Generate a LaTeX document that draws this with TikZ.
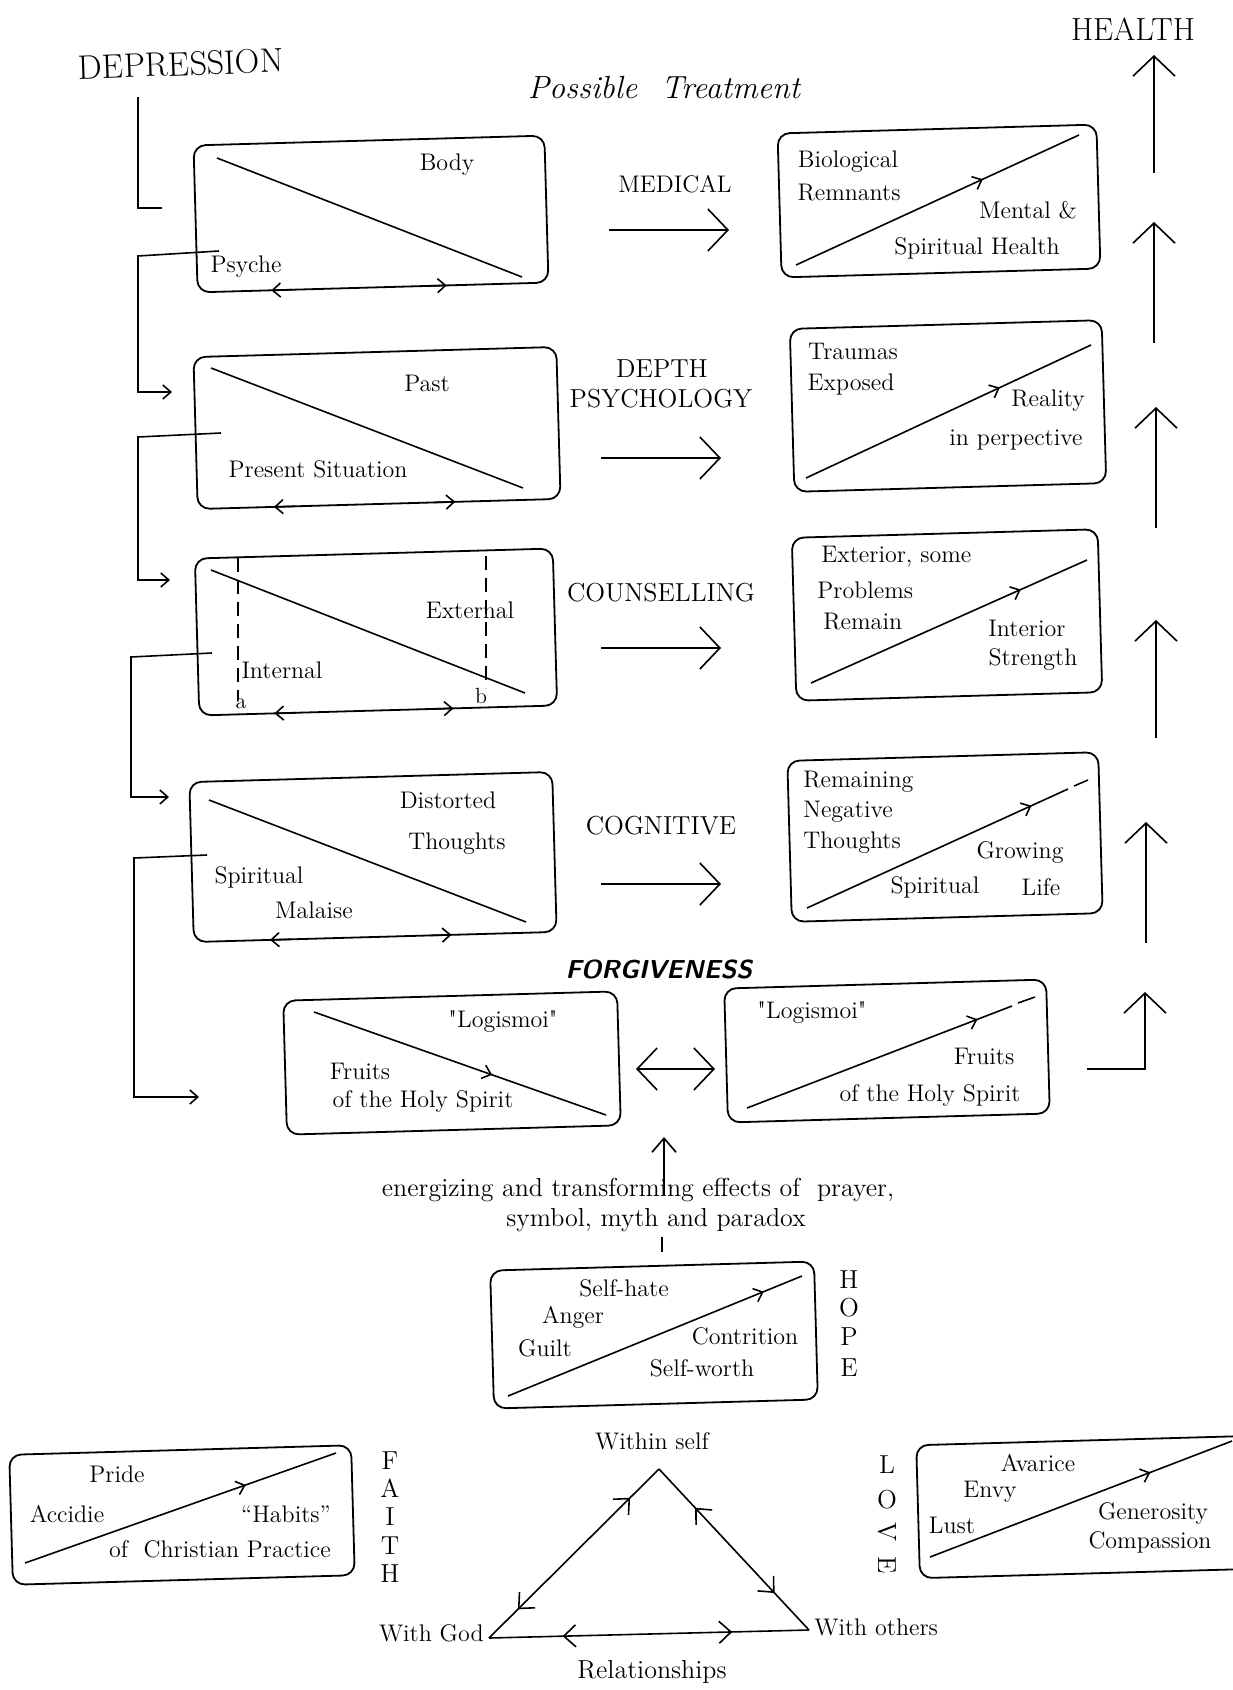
\documentclass[tikz,border=0pt]{standalone}
\usepackage{fontspec}
\usetikzlibrary{arrows.meta,decorations.markings,calc}
\tikzset{
  box/.style={draw, rounded corners=6pt, line width=0.9pt, inner sep=0pt, outer sep=0pt, rotate=1.6},
  txt/.style={inner sep=0pt, font=\fontsize{12}{14}\selectfont},
  capslabel/.style={inner sep=0pt, font=\fontsize{13}{15}\selectfont},
  vletter/.style={inner sep=0pt, font=\fontsize{13}{15}\selectfont},
  ln/.style={line width=0.8pt},
  smallarr/.style={line width=0.8pt, -{Straight Barb[length=4pt,width=7pt]}},
  medarr/.style={line width=0.8pt, -{Straight Barb[length=7pt,width=12pt]}},
  bigarr/.style={line width=0.8pt, -{Straight Barb[length=10pt,width=21pt]}},
  tipat/.style={postaction={decorate, decoration={markings, mark=at position #1 with {\arrow{Straight Barb[length=4pt,width=7pt]}}}}},
  ttipat/.style={postaction={decorate, decoration={markings, mark=at position #1 with {\arrow{Straight Barb[length=6pt,width=11pt]}}}}},
  rttipat/.style={postaction={decorate, decoration={markings, mark=at position #1 with {\arrowreversed{Straight Barb[length=6pt,width=11pt]}}}}},
}
\newcommand{\edgearrows}[1]{%
  \draw[smallarr] ($(#1.south west)!0.27!(#1.south east)$) -- ($(#1.south west)!0.21!(#1.south east)$);
  \draw[smallarr] ($(#1.south west)!0.65!(#1.south east)$) -- ($(#1.south west)!0.71!(#1.south east)$);}
\begin{document}
\begin{tikzpicture}[x=0.5pt, y=-0.5pt]
\fill[white] (0,0) rectangle (1232,1690);
\useasboundingbox (0,0) rectangle (1232,1690);

% ---------- titles ----------
\node[inner sep=0pt, font=\fontsize{17}{19}\selectfont\addfontfeatures{LetterSpace=12}, rotate=2] (dep) at (181,64) {DEPRESSION};
\node[inner sep=0pt, font=\fontsize{16}{18}\selectfont\addfontfeatures{LetterSpace=25}] (health) at (1133,29) {HEALTH};
\node[inner sep=0pt, font=\fontsize{16}{18}\selectfont\itshape\addfontfeatures{LetterSpace=8}] (treat) at (664,88) {Possible\hspace{12pt}Treatment};

% ---------- left boxes ----------
\node[box, minimum width=175.5pt, minimum height=73.5pt] (b1) at (371,214) {};
\node[box, minimum width=181.5pt, minimum height=76pt] (b2) at (377,428) {};
\node[box, minimum width=179pt, minimum height=78.5pt] (b3) at (376,632) {};
\node[box, minimum width=181.5pt, minimum height=80pt] (b4) at (373,857) {};
\node[box, minimum width=167pt, minimum height=67pt] (b5) at (452,1063) {};
\node[box, minimum width=161pt, minimum height=67pt] (b6) at (887,1051) {};

% ---------- right boxes ----------
\node[box, minimum width=159.5pt, minimum height=72pt] (r1) at (939,201) {};
\node[box, minimum width=156pt, minimum height=81.5pt] (r2) at (948,406) {};
\node[box, minimum width=153pt, minimum height=81.5pt] (r3) at (947,615) {};
\node[box, minimum width=155.5pt, minimum height=80.5pt] (r4) at (945,837) {};

% ---------- bottom boxes ----------
\node[box, minimum width=162pt, minimum height=69pt] (hb) at (654,1335) {};
\node[box, minimum width=171pt, minimum height=65pt] (fb) at (182,1515) {};
\node[box, minimum width=168pt, minimum height=66.5pt] (lb) at (1086,1507) {};

% ---------- box 1 ----------
\draw[ln] (217,158) -- (522,277);
\node[txt] (t1a) at (447,165) {Body};
\node[txt] (t1b) at (246,267) {Psyche};
\edgearrows{b1}

% ---------- box 2 ----------
\draw[ln] (211,368) -- (523,488);
\node[txt] (t2a) at (427,383) {Past};
\node[txt] (t2b) at (318,469) {Present Situation};
\edgearrows{b2}

% ---------- box 3 ----------
\draw[ln] (211,570) -- (525,693);
\draw[ln, dash pattern=on 7pt off 4pt] (238,558) -- (238,700);
\draw[ln, dash pattern=on 7pt off 4pt] (486,556) -- (486,688);
\node[txt] (t3a) at (470,610) {External};
\node[txt] (t3b) at (282,670) {Internal};
\node[txt, font=\fontsize{11}{12}\selectfont] (t3c) at (241,704) {a};
\node[txt, font=\fontsize{11}{12}\selectfont] (t3d) at (481,696) {b};
\edgearrows{b3}

% ---------- box 4 ----------
\draw[ln] (209,800) -- (526,922);
\node[txt] (t4a) at (448,800) {Distorted};
\node[txt] (t4b) at (457,844) {Thoughts};
\node[txt] (t4c) at (259,877) {Spiritual};
\node[txt] (t4d) at (314,910) {Malaise};
\edgearrows{b4}

% ---------- box 5 ----------
\draw[ln, tipat=0.61] (314,1012) -- (606,1115);
\node[txt] (t5a) at (503,1022) {\textquotedbl Logismoi\textquotedbl};
\node[txt] (t5b) at (360,1071) {Fruits};
\node[txt] (t5c) at (423,1101) {of the Holy Spirit};

% ---------- box 6 ----------
\draw[ln, tipat=0.87] (747,1108) -- (1012,1006);
\draw[ln] (1018,1003) -- (1035,997);
\node[txt] (t6a) at (812,1013) {\textquotedbl Logismoi\textquotedbl};
\node[txt] (t6b) at (984,1056) {Fruits};
\node[txt] (t6c) at (930,1095) {of the Holy Spirit};

% ---------- right box texts ----------
\draw[ln, tipat=0.66] (796,265) -- (1079,135);
\node[txt] (r1a) at (848,162) {Biological};
\node[txt] (r1b) at (849,193) {Remnants};
\node[txt] (r1c) at (1028,210) {Mental \&};
\node[txt] (r1d) at (977,248) {Spiritual Health};

\draw[ln, tipat=0.68] (806,478) -- (1091,345);
\node[txt] (r2a) at (853,351) {Traumas};
\node[txt] (r2b) at (851,384) {Exposed};
\node[txt] (r2c) at (1048,401) {Reality};
\node[txt] (r2d) at (1016,440) {in perpective};

\draw[ln, tipat=0.76] (811,683) -- (1087,560);
\node[txt, anchor=west] (r3a) at (821,557) {Exterior, some};
\node[txt, anchor=west] (r3b) at (817,590) {Problems};
\node[txt, anchor=west] (r3c) at (823,622) {Remain};
\node[txt] (r3d) at (1027,628) {Interior};
\node[txt] (r3e) at (1033,660) {Strength};

\draw[ln, tipat=0.86] (807,908) -- (1068,789);
\draw[ln] (1074,786) -- (1088,780);
\node[txt, anchor=west] (r4a) at (803,782) {Remaining};
\node[txt, anchor=west] (r4b) at (803,812) {Negative};
\node[txt, anchor=west] (r4c) at (803,843) {Thoughts};
\node[txt] (r4d) at (1020,853) {Growing};
\node[txt] (r4e) at (935,887) {Spiritual};
\node[txt] (r4f) at (1041,887) {Life};

% ---------- treatment labels and arrows ----------
\node[inner sep=0pt, font=\fontsize{12}{14}\selectfont\addfontfeatures{LetterSpace=14}] (med) at (675,184) {MEDICAL};
\node[capslabel] (dp1) at (662,369) {DEPTH};
\node[capslabel] (dp2) at (661,399) {PSYCHOLOGY};
\node[capslabel] (cou) at (661,593) {COUNSELLING};
\node[capslabel] (cog) at (661,826) {COGNITIVE};
\draw[bigarr] (609,230) -- (729,230);
\draw[bigarr] (601,458) -- (721,458);
\draw[bigarr] (601,648) -- (721,648);
\draw[bigarr] (601,884) -- (721,884);

% ---------- right column (to HEALTH) ----------
\draw[bigarr] (1154,173) -- (1154,55);
\draw[bigarr] (1154,343) -- (1154,222);
\draw[bigarr] (1156,528) -- (1156,407);
\draw[bigarr] (1156,738) -- (1156,620);
\draw[bigarr] (1146,943) -- (1146,822);
\draw[bigarr] (1087,1069) -| (1145,992);

% ---------- left brackets ----------
\draw[ln] (138,97) |- (162,208);
\draw[smallarr] (219,251) -- (138,256) |- (172,392);
\draw[smallarr] (221,433) -- (138,437) |- (170,580);
\draw[smallarr] (212,653) -- (131,657) |- (169,797);
\draw[smallarr] (207,855) -- (134,858) |- (199,1097);

% ---------- forgiveness ----------
\node[inner sep=0pt, font=\fontsize{13}{15}\selectfont\sffamily\bfseries\itshape] (forg) at (659,969) {FORGIVENESS};
\draw[line width=0.8pt, {Straight Barb[length=10pt,width=21pt]}-{Straight Barb[length=10pt,width=21pt]}] (636,1069) -- (715,1069);

% ---------- energizing ----------
\node[inner sep=0pt, font=\fontsize{13}{15}\selectfont] (en1) at (638,1190) {energizing and transforming effects of\ \ prayer,};
\node[inner sep=0pt, font=\fontsize{13}{15}\selectfont] (en2) at (656,1220) {symbol, myth and paradox};
\draw[medarr] (664,1195) -- (664,1137);
\draw[ln] (662,1237) -- (662,1252);

% ---------- hope box ----------
\draw[ln, tipat=0.87] (508,1396) -- (802,1276);
\node[txt] (h1) at (624,1288) {Self-hate};
\node[txt] (h2) at (573,1317) {Anger};
\node[txt, font=\fontsize{12}{14}\selectfont\addfontfeatures{LetterSpace=12}] (h3) at (545,1348) {Guilt};
\node[txt] (h4) at (745,1336) {Contrition};
\node[txt] (h5) at (702,1368) {Self-worth};
\node[vletter] (hoH) at (849,1280) {H};
\node[vletter] (hoO) at (849,1308) {O};
\node[vletter] (hoP) at (849,1337) {P};
\node[vletter] (hoE) at (849,1368) {E};

% ---------- faith box ----------
\draw[ln, tipat=0.71] (25,1563) -- (336,1453);
\node[txt] (f1) at (117,1474) {Pride};
\node[txt] (f2) at (67,1514) {Accidie};
\node[txt] (f3) at (286,1514) {``Habits''};
\node[txt] (f4) at (220,1549) {of\ \ Christian Practice};
\node[vletter] (faF) at (390,1461) {F};
\node[vletter] (faA) at (390,1488) {A};
\node[vletter] (faI) at (390,1517) {I};
\node[vletter] (faT) at (390,1546) {T};
\node[vletter] (faH) at (390,1574) {H};

% ---------- love box ----------
\draw[ln, tipat=0.73] (930,1557) -- (1232,1441);
\node[txt] (l1) at (1038,1463) {Avarice};
\node[txt] (l2) at (990,1492) {Envy};
\node[txt] (l3) at (952,1525) {Lust};
\node[txt] (l4) at (1153,1513) {Generosity};
\node[txt] (l5) at (1150,1542) {Compassion};
\node[vletter] (loL) at (887,1465) {L};
\node[vletter] (loO) at (887,1500) {O};
\node[vletter, rotate=-90] (loV) at (887,1532) {V};
\node[vletter, rotate=-90] (loE) at (887,1565) {E};

% ---------- relationships triangle ----------
\coordinate (apex) at (659,1469);
\coordinate (vgod) at (489,1638);
\coordinate (voth) at (809,1630);
\node[txt] (ws) at (652,1441) {Within self};
\node[txt, anchor=east] (wg) at (484,1633) {With God};
\node[txt, anchor=west] (wo) at (814,1627) {With others};
\node[inner sep=0pt, font=\fontsize{13}{15}\selectfont\addfontfeatures{LetterSpace=14}] (rel) at (652,1672) {Relationships};
\draw[ln, ttipat=0.83, rttipat=0.17] (vgod) -- (apex);
\draw[ln, ttipat=0.76, rttipat=0.23] (voth) -- (apex);
\draw[ln, ttipat=0.76, rttipat=0.23] (vgod) -- (voth);

\end{tikzpicture}
\end{document}
